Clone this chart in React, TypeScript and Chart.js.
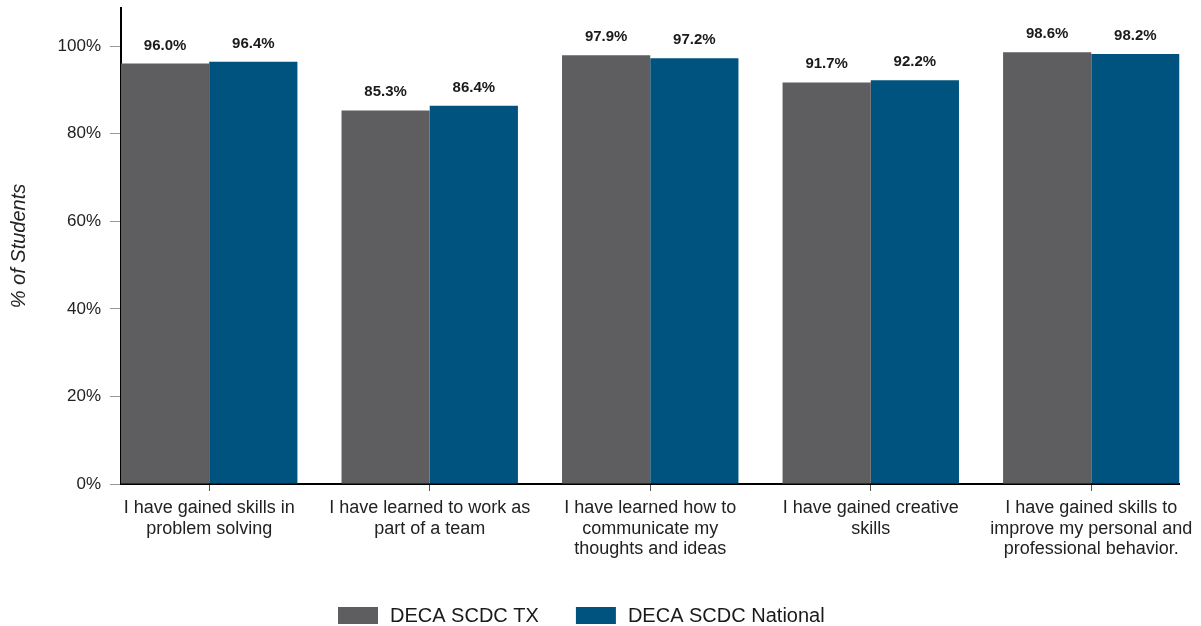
import React, { useEffect, useRef } from "react";
import { Chart, registerables } from "chart.js";

Chart.register(...registerables);

const categories: string[][] = [
  ["I have gained skills in", "problem solving"],
  ["I have learned to work as", "part of a team"],
  ["I have learned how to", "communicate my", "thoughts and ideas"],
  ["I have gained creative", "skills"],
  ["I have gained skills to", "improve my personal and", "professional behavior."],
];

const seriesNames = ["DECA SCDC TX", "DECA SCDC National"];
const txValues = [96.0, 85.3, 97.9, 91.7, 98.6];
const nationalValues = [96.4, 86.4, 97.2, 92.2, 98.2];
const yTickValues = [0, 20, 40, 60, 80, 100];

const FONT = "'Liberation Sans', Arial, sans-serif";
const GREY = "#5E5E60";
const BLUE = "#00537E";

const valueLabelPlugin = {
  id: "valueLabels",
  afterDraw(chart: any) {
    const ctx = chart.ctx;
    ctx.save();
    ctx.font = `bold 15px ${FONT}`;
    ctx.fillStyle = "#1a1a1a";
    ctx.textAlign = "center";
    ctx.textBaseline = "alphabetic";
    chart.data.datasets.forEach((ds: any, i: number) => {
      const meta = chart.getDatasetMeta(i);
      meta.data.forEach((bar: any, j: number) => {
        const v = ds.data[j];
        ctx.fillText(v.toFixed(1) + "%", bar.x, bar.y - 14);
      });
    });
    ctx.restore();
  },
};

const customLegendPlugin = {
  id: "customLegend",
  afterDraw(chart: any) {
    const ctx = chart.ctx;
    ctx.save();
    ctx.font = `20px ${FONT}`;
    ctx.textBaseline = "middle";
    ctx.textAlign = "left";
    let x = 338;
    const y = 607;
    chart.data.datasets.forEach((ds: any) => {
      ctx.fillStyle = ds.backgroundColor;
      ctx.fillRect(x, y, 40, 17);
      ctx.fillStyle = "#1a1a1a";
      ctx.fillText(ds.label, x + 52, y + 9);
      x += 52 + ctx.measureText(ds.label).width + 37;
    });
    ctx.restore();
  },
};

export default function App() {
  const canvasRef = useRef<HTMLCanvasElement | null>(null);

  useEffect(() => {
    if (!canvasRef.current) return;
    const chart = new Chart(canvasRef.current, {
      type: "bar",
      data: {
        labels: categories,
        datasets: [
          {
            label: seriesNames[0],
            data: txValues,
            backgroundColor: GREY,
            categoryPercentage: 0.8,
            barPercentage: 1.0,
          },
          {
            label: seriesNames[1],
            data: nationalValues,
            backgroundColor: BLUE,
            categoryPercentage: 0.8,
            barPercentage: 1.0,
          },
        ],
      },
      plugins: [valueLabelPlugin, customLegendPlugin],
      options: {
        animation: false,
        responsive: true,
        maintainAspectRatio: false,
        layout: { padding: { left: 0, right: 20, top: 8, bottom: 0 } },
        plugins: {
          legend: { display: false },
          tooltip: { enabled: false },
        },
        scales: {
          x: {
            offset: true,
            z: 1,
            grid: {
              offset: false,
              drawOnChartArea: false,
              drawTicks: true,
              tickLength: 7,
              color: "#555",
            },
            border: { display: true, color: "#000", width: 2 },
            ticks: {
              autoSkip: false,
              maxRotation: 0,
              minRotation: 0,
              padding: 7,
              color: "#222",
              font: { family: FONT, size: 18, lineHeight: 1.14 },
            },
            afterBuildTicks(scale: any) {
              scale._startValue = -0.4;
              scale._valueRange = 4.8;
            },
            afterFit(scale: any) {
              scale.height = 142;
            },
          },
          y: {
            min: 0,
            max: 108.7,
            z: 1,
            afterBuildTicks(scale: any) {
              scale.ticks = yTickValues.map((v) => ({ value: v }));
            },
            ticks: {
              stepSize: 20,
              padding: 9,
              color: "#222",
              font: { family: FONT, size: 17 },
              callback: (v: any) => v + "%",
            },
            grid: {
              drawOnChartArea: false,
              drawTicks: true,
              tickLength: 11,
              color: "#999",
            },
            border: { display: true, color: "#000", width: 2 },
            title: {
              display: true,
              text: "% of Students",
              color: "#222",
              font: { family: FONT, size: 20, style: "italic" },
              padding: { top: 7, bottom: 0 },
            },
            afterFit(scale: any) {
              scale.width = 121;
              scale.paddingTop = 0;
              scale.paddingBottom = 0;
            },
          },
        },
      },
    });
    return () => chart.destroy();
  }, []);

  return (
    <div
      style={{
        position: "fixed",
        left: 0,
        top: 0,
        width: "1201px",
        height: "626px",
        background: "#fff",
      }}
    >
      <canvas ref={canvasRef} />
    </div>
  );
}
